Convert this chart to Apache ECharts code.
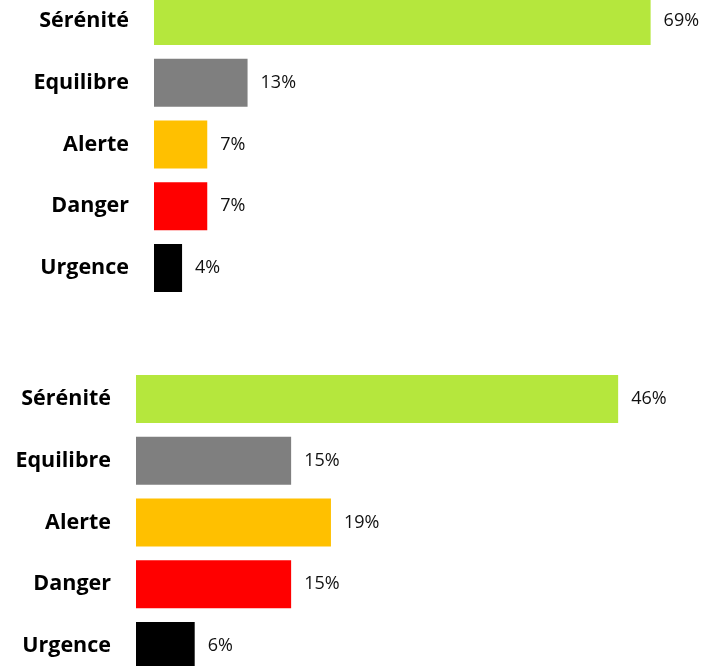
<!DOCTYPE html>
<html>
<head>
<meta charset="utf-8">
<script src="https://cdn.jsdelivr.net/npm/echarts@6/dist/echarts.min.js"></script>
<style>
  html, body { margin: 0; padding: 0; background: #fff; }
  #chart { width: 704px; height: 666px; }
</style>
</head>
<body>
<div id="chart"></div>
<script>
// niveaux, du haut vers le bas
const categories = ['Sérénité', 'Equilibre', 'Alerte', 'Danger', 'Urgence'];
const barColors = ['#b5e73d', '#7f7f7f', '#ffc000', '#ff0000', '#000000'];
// pourcentages
const topValues = [69, 13, 7.4, 7.4, 3.9];
const bottomValues = [46, 14.8, 18.6, 14.8, 5.6];

const font = '"Open Sans", sans-serif';

function makeData(values) {
  return values.map((v, i) => ({
    value: v,
    itemStyle: { color: barColors[i] }
  }));
}

function barSeries(values, idx) {
  return {
    type: 'bar',
    xAxisIndex: idx,
    yAxisIndex: idx,
    barWidth: 48,
    silent: true,
    animation: false,
    label: {
      show: true,
      position: 'right',
      distance: 13,
      fontFamily: font,
      fontSize: 18,
      color: '#111',
      formatter: (p) => Math.round(p.value) + '%'
    },
    data: makeData(values)
  };
}

const yAxisBase = {
  type: 'category',
  data: categories,
  inverse: true,
  axisLine: { show: false },
  axisTick: { show: false },
  splitLine: { show: false },
  axisLabel: {
    margin: 25,
    fontFamily: font,
    fontWeight: 'bold',
    fontSize: 21.5,
    color: '#000'
  }
};

const option = {
  backgroundColor: '#fff',
  grid: [
    { left: 154, top: -10, width: 547, height: 309, containLabel: false, outerBoundsMode: 'none' },
    { left: 136, top: 368, width: 566, height: 309, containLabel: false, outerBoundsMode: 'none' }
  ],
  xAxis: [
    { type: 'value', gridIndex: 0, min: 0, max: 76, show: false },
    { type: 'value', gridIndex: 1, min: 0, max: 54, show: false }
  ],
  yAxis: [
    Object.assign({ gridIndex: 0 }, yAxisBase),
    Object.assign({ gridIndex: 1 }, yAxisBase)
  ],
  series: [
    barSeries(topValues, 0),
    barSeries(bottomValues, 1)
  ]
};

const chart = echarts.init(document.getElementById('chart'));
chart.setOption(option);
</script>
</body>
</html>
